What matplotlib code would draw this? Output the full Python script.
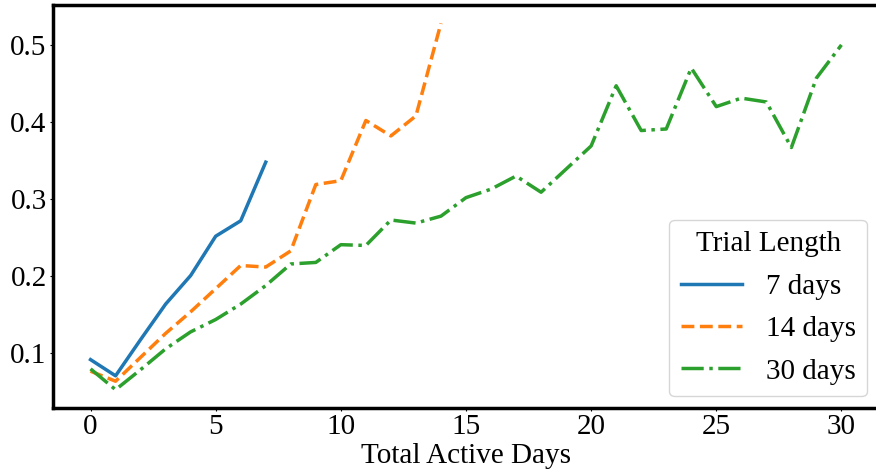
import matplotlib
matplotlib.use("Agg")
import matplotlib.pyplot as plt

# Valores
dias_7 = [0, 1, 2, 3, 4, 5, 6, 7]
taxa_7 = [0.092, 0.071, 0.118, 0.164, 0.201, 0.252, 0.272, 0.348]

dias_14 = list(range(15))
taxa_14 = [0.077, 0.064, 0.095, 0.126, 0.154, 0.184, 0.214, 0.212,
           0.233, 0.319, 0.324, 0.402, 0.382, 0.408, 0.528]

dias_30 = list(range(31))
taxa_30 = [0.080, 0.053, 0.079, 0.106, 0.128, 0.144, 0.164, 0.188,
           0.216, 0.218, 0.241, 0.240, 0.273, 0.269, 0.278, 0.302,
           0.313, 0.330, 0.309, 0.339, 0.369, 0.447, 0.389, 0.391,
           0.470, 0.420, 0.431, 0.426, 0.367, 0.457, 0.500]

plt.rcParams['font.family'] = ['Liberation Serif', 'DejaVu Serif']

fig = plt.figure(figsize=(8.76, 4.75), dpi=100)
ax = fig.add_axes([0.0605, 0.141, 0.9429, 0.8485])

ax.plot(dias_7, taxa_7, color='#1f77b4', linestyle='-', linewidth=2.5, label='7 days')
ax.plot(dias_14, taxa_14, color='#ff7f0e', linestyle='--', linewidth=2.5, label='14 days')
ax.plot(dias_30, taxa_30, color='#2ca02c', linestyle='-.', linewidth=2.5, label='30 days')

ax.set_xticks([0, 5, 10, 15, 20, 25, 30])
ax.set_yticks([0.1, 0.2, 0.3, 0.4, 0.5])
ax.tick_params(labelsize=21, length=2.5, pad=2)
ax.set_xlabel("Total Active Days", fontsize=21, labelpad=2)

for spine in ax.spines.values():
    spine.set_linewidth(2.5)
    spine.set_color('black')

ax.legend(title="Trial Length", loc='lower right', fontsize=21, title_fontsize=21,
          handlelength=2.1, handletextpad=0.8, labelspacing=0.55, borderaxespad=0.4)

fig.savefig("out.png", dpi=100)
